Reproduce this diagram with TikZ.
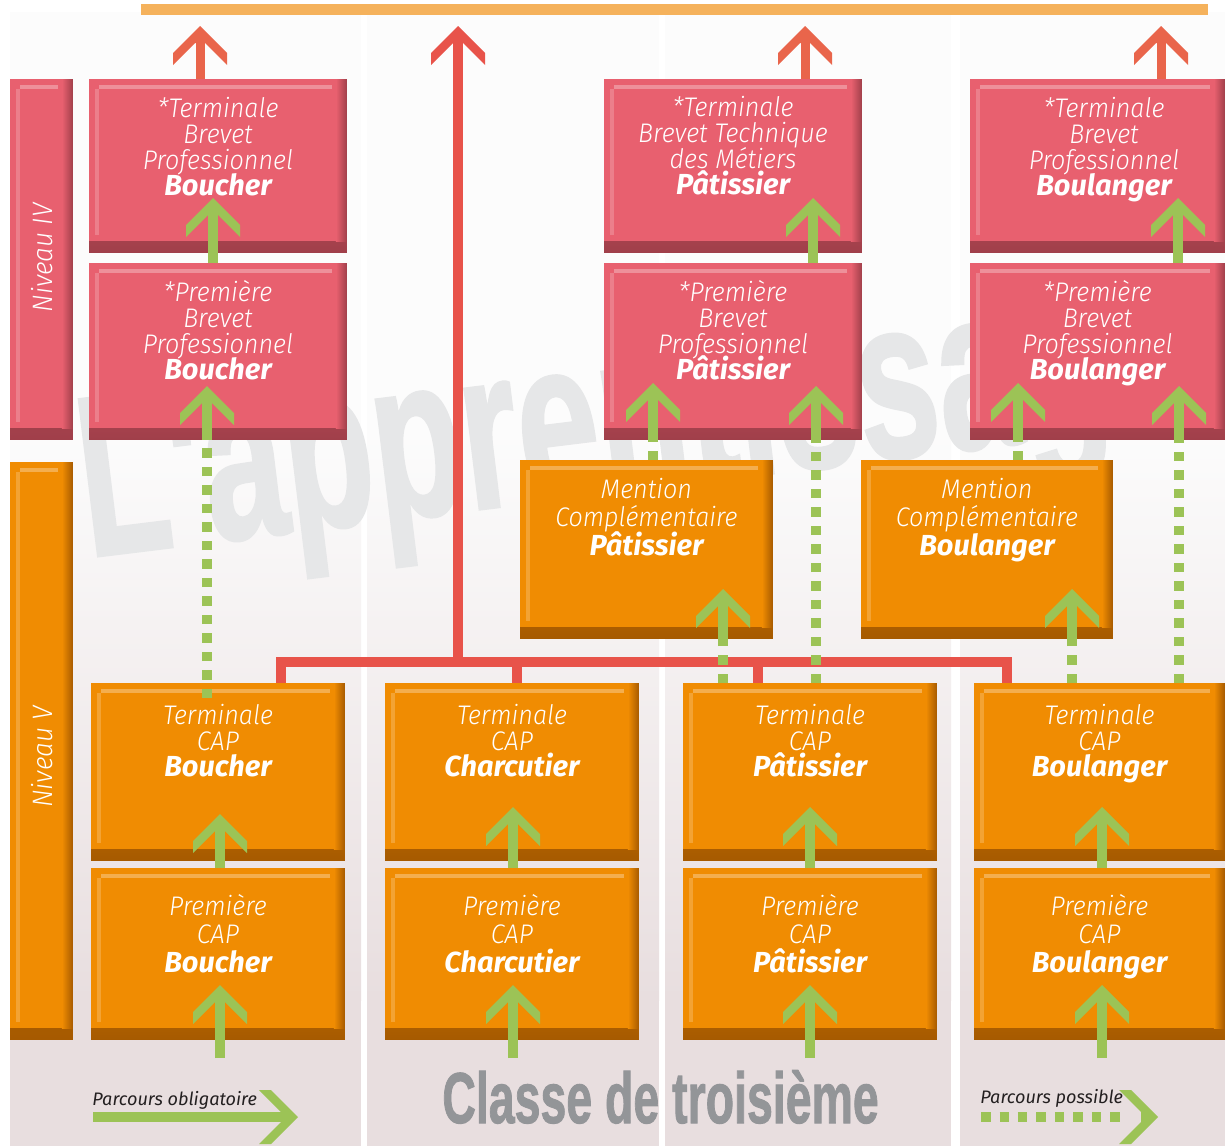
\documentclass[tikz,border=0pt]{standalone}
\usepackage{fontspec}
\usetikzlibrary{calc,positioning}
\newfontfamily\boxfont{Fira Sans Light Italic}[FakeStretch=0.935]
\newfontfamily\tradefont{Fira Sans Bold Italic}
\newfontfamily\legfont{Fira Sans Italic}
\newfontfamily\heavyfont{Liberation Sans}[BoldFeatures={FakeBold=1.5}]
\definecolor{boxred}{HTML}{E8606F}
\definecolor{boxreddark}{HTML}{A03F4A}
\definecolor{boxorange}{HTML}{F08C02}
\definecolor{boxorangedark}{HTML}{A65A00}
\definecolor{pathgreen}{HTML}{9CC356}
\definecolor{linkred}{HTML}{E8534A}
\definecolor{arrowred}{HTML}{E9654B}
\definecolor{topbar}{HTML}{F5B25C}
\definecolor{panelpink}{HTML}{E8DEDF}
\definecolor{paneltop}{HTML}{FCFCFC}
\definecolor{wmgray}{HTML}{E6E7E8}
\definecolor{titlegray}{HTML}{939598}
\definecolor{legendtext}{HTML}{231F20}
% fixed line spacing in boxes
\newcommand{\tightlines}{\setlength{\lineskiplimit}{-50pt}}
% trade name, last line of a box
\newcommand{\trade}[1]{{\tradefont\fontsize{16.5}{14.8}\selectfont #1}}
% chevron head, apex at #3, turned by #1
\newcommand{\chev}[3][0]{%
  \fill[#2, rotate around={#1:(#3)}] (#3) -- ++(-27,27) -- ++(0,12) -- ++(22,-22) -- ++(10,0) -- ++(22,22) -- ++(0,-12) -- cycle;}
\tikzset{
  box/.style 2 args={rectangle, inner sep=0pt, outer sep=0pt, anchor=north west, fill=#1,
    path picture={
      \shade[top color=#1, middle color=#1!65!#2, bottom color=#2] ([yshift=0.22cm]path picture bounding box.south west) rectangle (path picture bounding box.south east);
      \shade[left color=#1, middle color=#1!65!#2, right color=#2] ([xshift=-0.22cm]path picture bounding box.north east) rectangle ([yshift=0.22cm]path picture bounding box.south east);
      \draw[white, opacity=.3, line width=0.08cm] ([shift={(0.2cm,-0.16cm)}]path picture bounding box.north west) -- ([shift={(-0.3cm,-0.16cm)}]path picture bounding box.north east);
      \draw[white, opacity=.2, line width=0.08cm] ([shift={(0.16cm,-0.2cm)}]path picture bounding box.north west) -- ([shift={(0.16cm,0.35cm)}]path picture bounding box.south west);
    }},
  redbox/.style={box={boxred}{boxreddark}},
  orgbox/.style={box={boxorange}{boxorangedark}},
  boxtext/.style={text=white, align=center, anchor=base, inner sep=0pt, font={\boxfont\fontsize{15.3}{14.8}\selectfont\tightlines}},
  widetext/.style={boxtext, font={\boxfont\fontsize{15.3}{16.5}\selectfont\tightlines}},
  nivtext/.style={text=white, rotate=90, inner sep=0pt, font=\boxfont\fontsize{16}{16}\selectfont},
  legtext/.style={text=legendtext, anchor=base west, inner sep=0pt, font=\legfont\fontsize{10.3}{12}\selectfont},
  oblig/.style={draw=pathgreen, line width=0.2cm, shorten >=0.34cm},
  possible/.style={draw=pathgreen, line width=0.19cm, dash pattern=on 0.19cm off 0.18cm},
  redlink/.style={draw=linkred, line width=0.2cm},
  redup/.style={draw=arrowred, line width=0.18cm, shorten >=0.34cm},
}
\begin{document}
\begin{tikzpicture}[x=0.02cm, y=-0.02cm]
\useasboundingbox (0,0) rectangle (1225,1146);
\fill[white] (0,0) rectangle (1225,1146);

% Drawing the four column panels
\foreach \xa/\xb in {10/361, 367/659, 665/951, 960/1225} {
  \fill[paneltop] (\xa,12) rectangle (\xb,430);
  \shade[top color=paneltop, bottom color=panelpink] (\xa,430) rectangle (\xb,1000);
  \fill[panelpink] (\xa,1000) rectangle (\xb,1146);
}

% Watermark
\node[anchor=base west, rotate=7, inner sep=0pt, text=wmgray, font=\heavyfont\bfseries\fontsize{130}{130}\selectfont] (wm) at (88,557) {\scalebox{0.64}[1]{L'apprentissage}};

% Top bar
\fill[topbar] (141,4) rectangle (1208,15);

% Drawing level bars
\node[redbox, minimum width=1.26cm, minimum height=7.22cm] (nivIV) at (10,79) {};
\node[orgbox, minimum width=1.26cm, minimum height=11.56cm] (nivV) at (10,462) {};
\node[nivtext] (nivIV-t) at (42,258) {Niveau IV};
\node[nivtext] (nivV-t) at (42,757) {Niveau V};

% Drawing boxes, column Boucher
\node[redbox, minimum width=5.16cm, minimum height=3.48cm] (tbpbou) at (89,79) {};
\node[redbox, minimum width=5.16cm, minimum height=3.54cm] (pbpbou) at (89,263) {};
\node[orgbox, minimum width=5.08cm, minimum height=3.56cm] (tcbou) at (91,683) {};
\node[orgbox, minimum width=5.08cm, minimum height=3.44cm] (pcbou) at (91,868) {};

% Drawing boxes, column Charcutier
\node[orgbox, minimum width=5.08cm, minimum height=3.56cm] (tccha) at (385,683) {};
\node[orgbox, minimum width=5.08cm, minimum height=3.44cm] (pccha) at (385,868) {};

% Drawing boxes, column Patissier
\node[redbox, minimum width=5.16cm, minimum height=3.48cm] (tbtmpat) at (604,79) {};
\node[redbox, minimum width=5.16cm, minimum height=3.54cm] (pbppat) at (604,263) {};
\node[orgbox, minimum width=5.06cm, minimum height=3.58cm] (mcpat) at (520,460) {};
\node[orgbox, minimum width=5.08cm, minimum height=3.56cm] (tcpat) at (683,683) {};
\node[orgbox, minimum width=5.08cm, minimum height=3.44cm] (pcpat) at (683,868) {};

% Drawing boxes, column Boulanger
\node[redbox, minimum width=5.1cm, minimum height=3.48cm] (tbpbl) at (970,79) {};
\node[redbox, minimum width=5.1cm, minimum height=3.54cm] (pbpbl) at (970,263) {};
\node[orgbox, minimum width=5.04cm, minimum height=3.58cm] (mcbl) at (861,460) {};
\node[orgbox, minimum width=5.02cm, minimum height=3.56cm] (tcbl) at (974,683) {};
\node[orgbox, minimum width=5.02cm, minimum height=3.44cm] (pcbl) at (974,868) {};

% Marking box texts (anchored at the last line)
\node[boxtext] (tbpbou-t) at ([yshift=-2.33cm]tbpbou.north) {*Terminale\\Brevet\\Professionnel\\\trade{Boucher}};
\node[boxtext] (pbpbou-t) at ([yshift=-2.34cm]pbpbou.north) {*Première\\Brevet\\Professionnel\\\trade{Boucher}};
\node[boxtext] (tcbou-t) at ([yshift=-1.88cm]tcbou.north) {Terminale\\CAP\\\trade{Boucher}};
\node[widetext] (pcbou-t) at ([yshift=-2.1cm]pcbou.north) {Première\\CAP\\\trade{Boucher}};
\node[boxtext] (tccha-t) at ([yshift=-1.88cm]tccha.north) {Terminale\\CAP\\\trade{Charcutier}};
\node[widetext] (pccha-t) at ([yshift=-2.1cm]pccha.north) {Première\\CAP\\\trade{Charcutier}};
\node[boxtext] (tbtmpat-t) at ([yshift=-2.32cm]tbtmpat.north) {*Terminale\\Brevet Technique\\des Métiers\\\trade{Pâtissier}};
\node[boxtext] (pbppat-t) at ([yshift=-2.34cm]pbppat.north) {*Première\\Brevet\\Professionnel\\\trade{Pâtissier}};
\node[widetext] (mcpat-t) at ([yshift=-1.92cm]mcpat.north) {Mention\\Complémentaire\\\trade{Pâtissier}};
\node[boxtext] (tcpat-t) at ([yshift=-1.88cm]tcpat.north) {Terminale\\CAP\\\trade{Pâtissier}};
\node[widetext] (pcpat-t) at ([yshift=-2.1cm]pcpat.north) {Première\\CAP\\\trade{Pâtissier}};
\node[boxtext] (tbpbl-t) at ([shift={(0.13cm,-2.33cm)}]tbpbl.north) {*Terminale\\Brevet\\Professionnel\\\trade{Boulanger}};
\node[boxtext] (pbpbl-t) at ([yshift=-2.34cm]pbpbl.north) {*Première\\Brevet\\Professionnel\\\trade{Boulanger}};
\node[widetext] (mcbl-t) at ([yshift=-1.92cm]mcbl.north) {Mention\\Complémentaire\\\trade{Boulanger}};
\node[boxtext] (tcbl-t) at ([yshift=-1.88cm]tcbl.north) {Terminale\\CAP\\\trade{Boulanger}};
\node[widetext] (pcbl-t) at ([yshift=-2.1cm]pcbl.north) {Première\\CAP\\\trade{Boulanger}};

% Drawing red links
\coordinate (jn) at (458,662);
\coordinate (rm) at (458,26);
\coordinate (d1) at ([xshift=1.26cm]tcbou.north);
\coordinate (d2) at ([xshift=0.1cm]tccha.north);
\coordinate (d3) at ([xshift=-1.04cm]tcpat.north);
\coordinate (d4) at ([xshift=-1.85cm]tcbl.north);
\draw[redlink] (d1) -- (d1 |- jn) -- (d4 |- jn) -- (d4);
\draw[redlink] (d2 |- jn) -- (d2);
\draw[redlink] (d3 |- jn) -- (d3);
\draw[redlink, shorten >=0.34cm] (jn) -- (rm);
\chev{linkred}{rm}

% Drawing red arrows above
\coordinate (r1) at (200,26);
\coordinate (r2) at (805,26);
\coordinate (r3) at (1161,26);
\draw[redup] (r1 |- tbpbou.north) -- (r1); \chev{arrowred}{r1}
\draw[redup] (r2 |- tbtmpat.north) -- (r2); \chev{arrowred}{r2}
\draw[redup] (r3 |- tbpbl.north) -- (r3); \chev{arrowred}{r3}

% Drawing green arrows
\coordinate (base) at (0,1058);
\coordinate (g1) at (220,985);
\coordinate (g2) at (220,814);
\coordinate (g3) at (207,386);
\coordinate (g4) at (213,198);
\coordinate (g5) at (513,985);
\coordinate (g6) at (513,807);
\coordinate (g7) at (810,985);
\coordinate (g8) at (810,807);
\coordinate (g9) at (723,589);
\coordinate (g10) at (653,383);
\coordinate (g11) at (816,386);
\coordinate (g12) at (813,198);
\coordinate (g13) at (1102,985);
\coordinate (g14) at (1102,807);
\coordinate (g15) at (1072,589);
\coordinate (g16) at (1018,383);
\coordinate (g17) at (1179,386);
\coordinate (g18) at (1178,198);

% column Boucher
\draw[oblig] (g1 |- base) -- (g1); \chev{pathgreen}{g1}
\draw[oblig] (g2 |- pcbou.north) -- (g2); \chev{pathgreen}{g2}
\draw[possible] ([yshift=-0.3cm]g3 |- tcbou.north) -- (g3 |- pbpbou.south);
\draw[oblig] (g3 |- pbpbou.south) -- (g3); \chev{pathgreen}{g3}
\draw[oblig] (g4 |- pbpbou.north) -- (g4); \chev{pathgreen}{g4}

% column Charcutier
\draw[oblig] (g5 |- base) -- (g5); \chev{pathgreen}{g5}
\draw[oblig] (g6 |- pccha.north) -- (g6); \chev{pathgreen}{g6}

% column Patissier
\draw[oblig] (g7 |- base) -- (g7); \chev{pathgreen}{g7}
\draw[oblig] (g8 |- pcpat.north) -- (g8); \chev{pathgreen}{g8}
\draw[possible] (g9 |- tcpat.north) -- (g9 |- mcpat.south);
\draw[oblig] (g9 |- mcpat.south) -- (g9); \chev{pathgreen}{g9}
\draw[possible] (g10 |- mcpat.north) -- (g10 |- pbppat.south);
\draw[oblig] (g10 |- pbppat.south) -- (g10); \chev{pathgreen}{g10}
\draw[possible] (g11 |- tcpat.north) -- (g11 |- pbppat.south);
\draw[oblig] (g11 |- pbppat.south) -- (g11); \chev{pathgreen}{g11}
\draw[oblig] (g12 |- pbppat.north) -- (g12); \chev{pathgreen}{g12}

% column Boulanger
\draw[oblig] (g13 |- base) -- (g13); \chev{pathgreen}{g13}
\draw[oblig] (g14 |- pcbl.north) -- (g14); \chev{pathgreen}{g14}
\draw[possible] (g15 |- tcbl.north) -- (g15 |- mcbl.south);
\draw[oblig] (g15 |- mcbl.south) -- (g15); \chev{pathgreen}{g15}
\draw[possible] (g16 |- mcbl.north) -- (g16 |- pbpbl.south);
\draw[oblig] (g16 |- pbpbl.south) -- (g16); \chev{pathgreen}{g16}
\draw[possible] (g17 |- tcbl.north) -- (g17 |- pbpbl.south);
\draw[oblig] (g17 |- pbpbl.south) -- (g17); \chev{pathgreen}{g17}
\draw[oblig] (g18 |- pbpbl.north) -- (g18); \chev{pathgreen}{g18}

% Marking legend and title
\node[legtext] (oblig-t) at (92,1105) {Parcours obligatoire};
\coordinate (lo-s) at (93,1117);
\coordinate (lo-e) at (298,1117);
\draw[oblig] (lo-s) -- (lo-e); \chev[-90]{pathgreen}{lo-e}
\node[legtext] (poss-t) at (980,1103) {Parcours possible};
\coordinate (lp-s) at (981,1117);
\coordinate (lp-e) at (1158,1117);
\draw[possible, shorten >=0.72cm] (lp-s) -- (lp-e); \chev[-90]{pathgreen}{lp-e}
\node[anchor=base west, inner sep=0pt, text=titlegray, font=\heavyfont\bfseries\fontsize{41}{41}\selectfont] (classe) at (442,1123) {\scalebox{0.645}[1]{Classe de troisième}};
\end{tikzpicture}
\end{document}
